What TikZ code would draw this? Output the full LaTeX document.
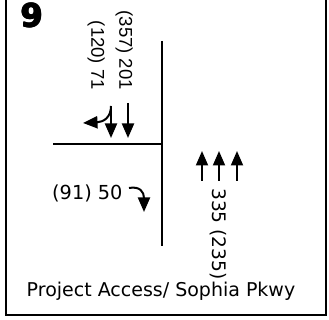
\documentclass[tikz,border=0pt]{standalone}
\usepackage{fontspec}
\setmainfont{Liberation Sans}
\newfontfamily\volfont{Liberation Sans}
\newfontfamily\labelfont{DejaVu Sans}
\usetikzlibrary{arrows.meta}
\begin{document}
\begin{tikzpicture}[x=1pt,y=-1pt,
  frame/.style={line width=2pt},
  road/.style={line width=2.4pt},
  mvt/.style={line width=2pt,-{Triangle[length=14.5pt,width=12pt]}},
  vol/.style={font=\volfont\fontsize{18.5}{20}\selectfont,inner sep=0pt},
  tvol/.style={font=\labelfont\fontsize{19.3}{20}\selectfont,inner sep=0pt},
  nvol/.style={font=\labelfont\fontsize{18.6}{20}\selectfont,inner sep=0pt},
  numstyle/.style={font=\labelfont\bfseries\fontsize{32}{33}\selectfont,inner sep=0pt,anchor=north west}]
\useasboundingbox (0,0) rectangle (329,320);
% frame, open at the top
\draw[frame] (6,-2) -- (6,315) -- (326,315) -- (326,-2);
% intersection number, set several times over to make it heavier
\foreach \dx/\dy in {0/0,0.8/0,0/0.8,0.8/0.8}
  \node[numstyle] at (20+\dx,3+\dy) {9};
\node[numstyle] (num) at (20.4,3.4) {9};
% roads
\coordinate (nEnd) at (162,41);
\coordinate (sEnd) at (162,246);
\coordinate (wEnd) at (53,144);
\coordinate (xing) at (163,144);
\draw[road] (nEnd) -- (sEnd);
\draw[road] (wEnd) -- (xing);
% southbound movements
\coordinate (sbT1a) at (111,106); \coordinate (sbT1b) at (111,138);
\coordinate (sbT2a) at (128,103); \coordinate (sbT2b) at (128,138);
\coordinate (sbL) at (83,123);
\draw[mvt] (sbT1a) -- (sbT1b);
\draw[mvt] (sbT2a) -- (sbT2b);
\draw[mvt] (sbT1a) .. controls (111,117) and (104,122) .. (sbL);
% southbound volumes
\node[vol,rotate=-90,anchor=north east] (sbV2) at (133,90) {(357) 201};
\node[vol,rotate=-90,anchor=north east] (sbV1) at (105,90) {(120) 71};
% eastbound right turn
\node[tvol,anchor=west] (ebV) at (52,193) {(91) 50};
\coordinate (ebA) at (129,188);
\coordinate (ebB) at (144,212);
\draw[mvt] (ebA) .. controls (140,186) and (144,192) .. (ebB);
% northbound movements
\coordinate (nb1a) at (202,181); \coordinate (nb1b) at (202,151);
\coordinate (nb2a) at (219,181); \coordinate (nb2b) at (219,151);
\coordinate (nb3a) at (237,181); \coordinate (nb3b) at (237,151);
\draw[mvt] (nb1a) -- (nb1b);
\draw[mvt] (nb2a) -- (nb2b);
\draw[mvt] (nb3a) -- (nb3b);
\node[nvol,rotate=-90,anchor=west] (nbV) at (218,188) {335 (235)};
% intersection name
\node[font=\labelfont\fontsize{19}{21}\selectfont,inner sep=0pt,anchor=base] (name) at (161,296) {Project Access/ Sophia Pkwy};
\end{tikzpicture}
\end{document}
